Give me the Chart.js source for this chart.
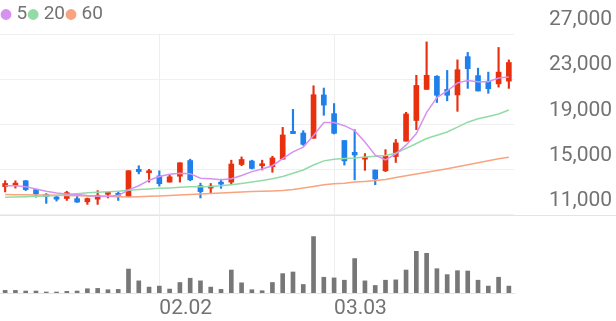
<!DOCTYPE html>
<html>
<head>
<meta charset="utf-8">
<script src="https://cdn.jsdelivr.net/npm/chart.js@4/dist/chart.umd.min.js"></script>
<style>
  html, body { margin: 0; padding: 0; background: #fff; }
  #wrap { width: 616px; height: 321px; }
</style>
</head>
<body>
<div id="wrap"><canvas id="priceChart" width="616" height="321"></canvas></div>
<script>
let dates = ['01.12', '01.13', '01.14', '01.15', '01.18', '01.19', '01.20', '01.21', '01.22', '01.25',
    '01.26', '01.27', '01.28', '01.29', '02.01', '02.02', '02.03', '02.04', '02.05', '02.08',
    '02.09', '02.15', '02.16', '02.17', '02.18', '02.19', '02.22', '02.23', '02.24', '02.25',
    '02.26', '03.02', '03.03', '03.04', '03.05', '03.08', '03.09', '03.10', '03.11', '03.12',
    '03.15', '03.16', '03.17', '03.18', '03.19', '03.22', '03.23', '03.24', '03.25', '03.26'];
let shownDates = ['02.02', '03.03'];

let openP = [13500, 13610, 14020, 13240, 12800, 12590, 12450, 12440, 12160, 12390,
    12820, 12820, 12630, 15030, 14730, 14450, 13900, 14420, 15810, 13580,
    13370, 13900, 13900, 15460, 15770, 15350, 15260, 15930, 18390, 18240,
    17780, 21610, 19960, 17580, 16540, 15930, 14970, 14900, 16160, 17520,
    19350, 22100, 23260, 22100, 21610, 25000, 23320, 22830, 22590, 22830];
let highP = [14020, 14020, 14050, 13250, 12890, 12650, 13090, 12680, 12500, 13150,
    13030, 13090, 14910, 15350, 15030, 14900, 14540, 15610, 15930, 13810,
    13780, 14160, 15840, 16130, 15840, 15840, 16190, 18740, 20330, 18450,
    22420, 22220, 20850, 17580, 18540, 16420, 14970, 16770, 17670, 20070,
    23350, 26300, 23320, 23780, 24710, 25370, 23980, 23630, 25810, 24710];
let lowP = [13030, 13370, 13150, 12570, 12020, 12220, 12280, 12110, 11930, 11930,
    12500, 12280, 12630, 14630, 13900, 13550, 13900, 13900, 14020, 12500,
    12940, 13350, 13670, 15350, 15060, 14970, 14770, 15930, 18190, 17150,
    17780, 19810, 18160, 15410, 14100, 14940, 13670, 14830, 15640, 17520,
    18540, 22100, 20940, 21090, 20160, 22190, 21960, 21760, 22300, 22190];
let closeP = [13780, 13810, 13240, 12850, 12630, 12390, 12970, 12130, 12450, 12740,
    12960, 12730, 14910, 14830, 14900, 13760, 14370, 15610, 14100, 13060,
    13550, 13720, 15500, 15900, 15110, 15430, 16040, 18070, 18190, 17240,
    21630, 20710, 18220, 15780, 16300, 16040, 14190, 16190, 17370, 19930,
    22450, 23350, 21580, 21580, 23840, 23930, 21960, 22160, 23630, 24480];

let ma5 = [13580, 13580, 13500, 13290, 13090, 12940, 12850, 12800, 12710, 12650,
    12650, 12710, 13220, 13580, 14070, 14390, 14590, 14680, 14650, 14240,
    14190, 14100, 14190, 14480, 14830, 15060, 15350, 15980, 16570, 17000,
    18020, 19170, 19170, 18890, 18450, 17440, 16280, 15870, 16390, 17170,
    18190, 20070, 21370, 21960, 22680, 22890, 22770, 22770, 23110, 23200];
let ma20 = [12570, 12580, 12610, 12640, 12670, 12720, 12780, 12870, 12960, 13000,
    13040, 13090, 13170, 13240, 13300, 13350, 13390, 13440, 13480, 13500,
    13520, 13580, 13670, 13780, 13910, 14040, 14190, 14390, 14680, 14970,
    15410, 15780, 15930, 15980, 16040, 16130, 16190, 16260, 16450, 16890,
    17320, 17760, 18040, 18330, 18770, 19200, 19500, 19700, 19930, 20280];
let ma60 = [12800, 12790, 12780, 12770, 12750, 12730, 12710, 12700, 12670, 12650,
    12630, 12600, 12580, 12610, 12640, 12680, 12710, 12760, 12800, 12840,
    12890, 12940, 12980, 13030, 13060, 13090, 13120, 13160, 13240, 13370,
    13520, 13670, 13760, 13810, 13900, 13960, 14040, 14130, 14300, 14460,
    14620, 14770, 14930, 15090, 15260, 15440, 15610, 15780, 15960, 16100];

// volume, thousand shares
let volume = [80, 80, 60, 60, 30, 30, 50, 60, 130, 140,
    100, 110, 730, 370, 180, 210, 120, 320, 450, 370,
    180, 110, 700, 310, 100, 70, 320, 590, 640, 260,
    1720, 480, 460, 390, 1050, 370, 230, 390, 400, 700,
    1270, 1210, 740, 560, 680, 670, 390, 210, 480, 210];

let priceTicks = [11000, 15000, 19000, 23000, 27000];

let upColor = '#e8300e';
let downColor = '#1f80ec';
let textColor = '#737373';

let candleColors = closeP.map((c, i) => c >= openP[i] ? upColor : downColor);
let wickData = lowP.map((l, i) => [l, highP[i]]);
let bodyData = openP.map((o, i) => [o, closeP[i]]);

let fixWidth = function (scale) {
    scale.width = 102;
};

let sepLine = {
    id: 'sepLine',
    afterDraw(chart) {
        let c = chart.ctx;
        let yb = Math.round(chart.scales.y.bottom) + 0.5;
        c.save();
        c.strokeStyle = '#e4e4e4';
        c.lineWidth = 1;
        c.beginPath();
        c.moveTo(0, yb);
        c.lineTo(chart.width, yb);
        c.stroke();
        c.restore();
    }
};

Chart.defaults.font.family = 'Roboto';
Chart.defaults.color = textColor;

let ctx = document.getElementById('priceChart').getContext('2d');

window.priceChart = new Chart(ctx, {
    data: {
        labels: dates,
        datasets: [{
            type: 'line',
            label: '5',
            data: ma5,
            borderColor: '#d592f0',
            backgroundColor: '#d592f0',
            borderWidth: 1.5,
            pointRadius: 0,
            yAxisID: 'y',
            order: 0
        }, {
            type: 'line',
            label: '20',
            data: ma20,
            borderColor: '#93dba6',
            backgroundColor: '#93dba6',
            borderWidth: 1.5,
            pointRadius: 0,
            yAxisID: 'y',
            order: 0
        }, {
            type: 'line',
            label: '60',
            data: ma60,
            borderColor: '#f7a47f',
            backgroundColor: '#f7a47f',
            borderWidth: 1.5,
            pointRadius: 0,
            yAxisID: 'y',
            order: 0
        }, {
            type: 'bar',
            label: 'wick',
            data: wickData,
            backgroundColor: candleColors,
            barThickness: 1.5,
            grouped: false,
            yAxisID: 'y',
            order: 2
        }, {
            type: 'bar',
            label: 'body',
            data: bodyData,
            backgroundColor: candleColors,
            barThickness: 5,
            minBarLength: 2,
            grouped: false,
            yAxisID: 'y',
            order: 1
        }, {
            type: 'bar',
            label: 'volume',
            data: volume,
            backgroundColor: '#777777',
            barThickness: 4,
            grouped: false,
            yAxisID: 'yv',
            order: 1
        }]
    },
    options: {
        responsive: false,
        animation: false,
        layout: { padding: 0 },
        plugins: {
            tooltip: { enabled: false },
            legend: {
                position: 'top',
                align: 'start',
                labels: {
                    filter: item => item.datasetIndex < 3,
                    usePointStyle: true,
                    pointStyle: 'circle',
                    boxWidth: 2,
                    boxHeight: 6.6,
                    padding: 5,
                    color: textColor,
                    font: { size: 19, lineHeight: 1.1 }
                }
            }
        },
        scales: {
            x: {
                type: 'category',
                offset: true,
                grid: { offset: false, color: '#eeeeee', drawTicks: false },
                border: { color: '#e4e4e4' },
                afterBuildTicks: scale => {
                    scale.ticks = scale.ticks.filter(t => shownDates.includes(dates[t.value]));
                },
                afterFit: scale => {
                    scale.height = 28;
                },
                ticks: {
                    autoSkip: false,
                    maxRotation: 0,
                    align: 'start',
                    padding: 3,
                    font: { size: 21 }
                }
            },
            y: {
                position: 'right',
                stack: 'main',
                stackWeight: 183,
                min: 11000,
                max: 27000,
                afterBuildTicks: scale => {
                    scale.ticks = priceTicks.map(v => ({ value: v }));
                },
                afterFit: fixWidth,
                grid: { color: '#f0f0f0', drawTicks: true, tickLength: 35, tickColor: 'rgba(0,0,0,0)' },
                border: { display: false },
                ticks: {
                    autoSkip: false,
                    labelOffset: -14,
                    padding: 0,
                    font: { size: 21 }
                }
            },
            yv: {
                position: 'right',
                stack: 'main',
                stackWeight: 79,
                min: 0,
                max: 2380,
                afterFit: fixWidth,
                grid: { display: false },
                border: { display: false },
                ticks: { display: false }
            }
        }
    },
    plugins: [sepLine]
});
</script>
</body>
</html>
